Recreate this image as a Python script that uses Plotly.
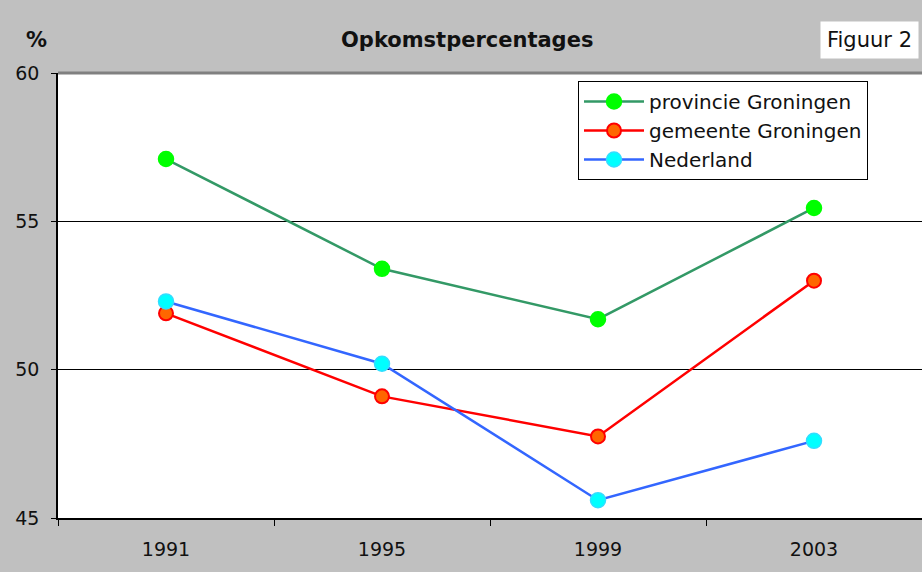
import plotly.graph_objects as go

years = ["1991", "1995", "1999", "2003"]
provincie = [57.1, 53.4, 51.7, 55.45]
gemeente = [51.9, 49.1, 47.75, 53.0]
nederland = [52.3, 50.2, 45.6, 47.6]
y_ticks = [45, 50, 55, 60]

FONT = "DejaVu Sans"

fig = go.Figure()
fig.add_trace(go.Scatter(
    x=years, y=provincie, name="provincie Groningen", mode="lines+markers",
    line=dict(color="#339966", width=2.5),
    marker=dict(size=15, color="#00ff00", line=dict(color="#00ff00", width=1.5))))
fig.add_trace(go.Scatter(
    x=years, y=gemeente, name="gemeente Groningen", mode="lines+markers",
    line=dict(color="#ff0000", width=2.5),
    marker=dict(size=14, color="#ff6600", line=dict(color="#ff0000", width=2))))
fig.add_trace(go.Scatter(
    x=years, y=nederland, name="Nederland", mode="lines+markers",
    line=dict(color="#3366ff", width=2.5),
    marker=dict(size=15, color="#00ffff", line=dict(color="#33ddff", width=1.5))))

W, H = 922, 572
l, r, t, b = 58, 0, 73, 54
pw, ph = W - l - r, H - t - b

def px2paper(px, py):
    return (px - l) / pw, (H - b - py) / ph

tx, ty = px2paper(467, 40)
px_, py_ = px2paper(36, 40)
fx, fy = px2paper(869.5, 40)

fig.update_layout(
    width=W, height=H,
    margin=dict(l=l, r=r, t=t, b=b),
    paper_bgcolor="#c0c0c0", plot_bgcolor="#ffffff",
    font=dict(family=FONT, size=19, color="#111111"),
    showlegend=True,
    legend=dict(x=(578 - l) / pw, y=(H - b - 81) / ph, xanchor="left", yanchor="top",
                bgcolor="#ffffff", bordercolor="#000000", borderwidth=1,
                font=dict(family=FONT, size=20, color="#111111"),
                tracegroupgap=0, itemwidth=60),
    xaxis=dict(type="category", range=[-0.5, 3.5], tickson="boundaries",
               ticks="outside", ticklen=6, tickcolor="#000000", tickwidth=1,
               showline=True, linecolor="#000000", linewidth=1.5,
               showgrid=False, zeroline=False, tickfont=dict(size=19),
               ticklabelstandoff=13),
    yaxis=dict(range=[45, 60], tickvals=y_ticks, ticks="outside", ticklen=5,
               tickcolor="#000000", showline=True, linecolor="#000000",
               linewidth=1.5, showgrid=True, gridcolor="#000000", gridwidth=1,
               zeroline=False, tickfont=dict(size=19), ticklabelstandoff=8),
    annotations=[
        dict(text="<b>Opkomstpercentages</b>", x=tx, y=ty, xref="paper", yref="paper",
             xanchor="center", yanchor="middle",
             showarrow=False, font=dict(size=21)),
        dict(text="<b>%</b>", x=px_, y=py_, xref="paper", yref="paper",
             xanchor="center", yanchor="middle",
             showarrow=False, font=dict(size=21)),
        dict(text="Figuur 2", x=fx, y=fy, xref="paper", yref="paper",
             xanchor="center", yanchor="middle", width=97, height=36,
             showarrow=False, font=dict(size=21), bgcolor="#ffffff", borderpad=0),
    ],
    shapes=[dict(type="line", xref="paper", yref="paper", x0=0, x1=1, y0=1, y1=1,
                 line=dict(color="#808080", width=3))],
)

fig.write_html("out.html", config={"displayModeBar": False},
               post_script="document.body.style.margin='0';document.body.style.padding='0';")
